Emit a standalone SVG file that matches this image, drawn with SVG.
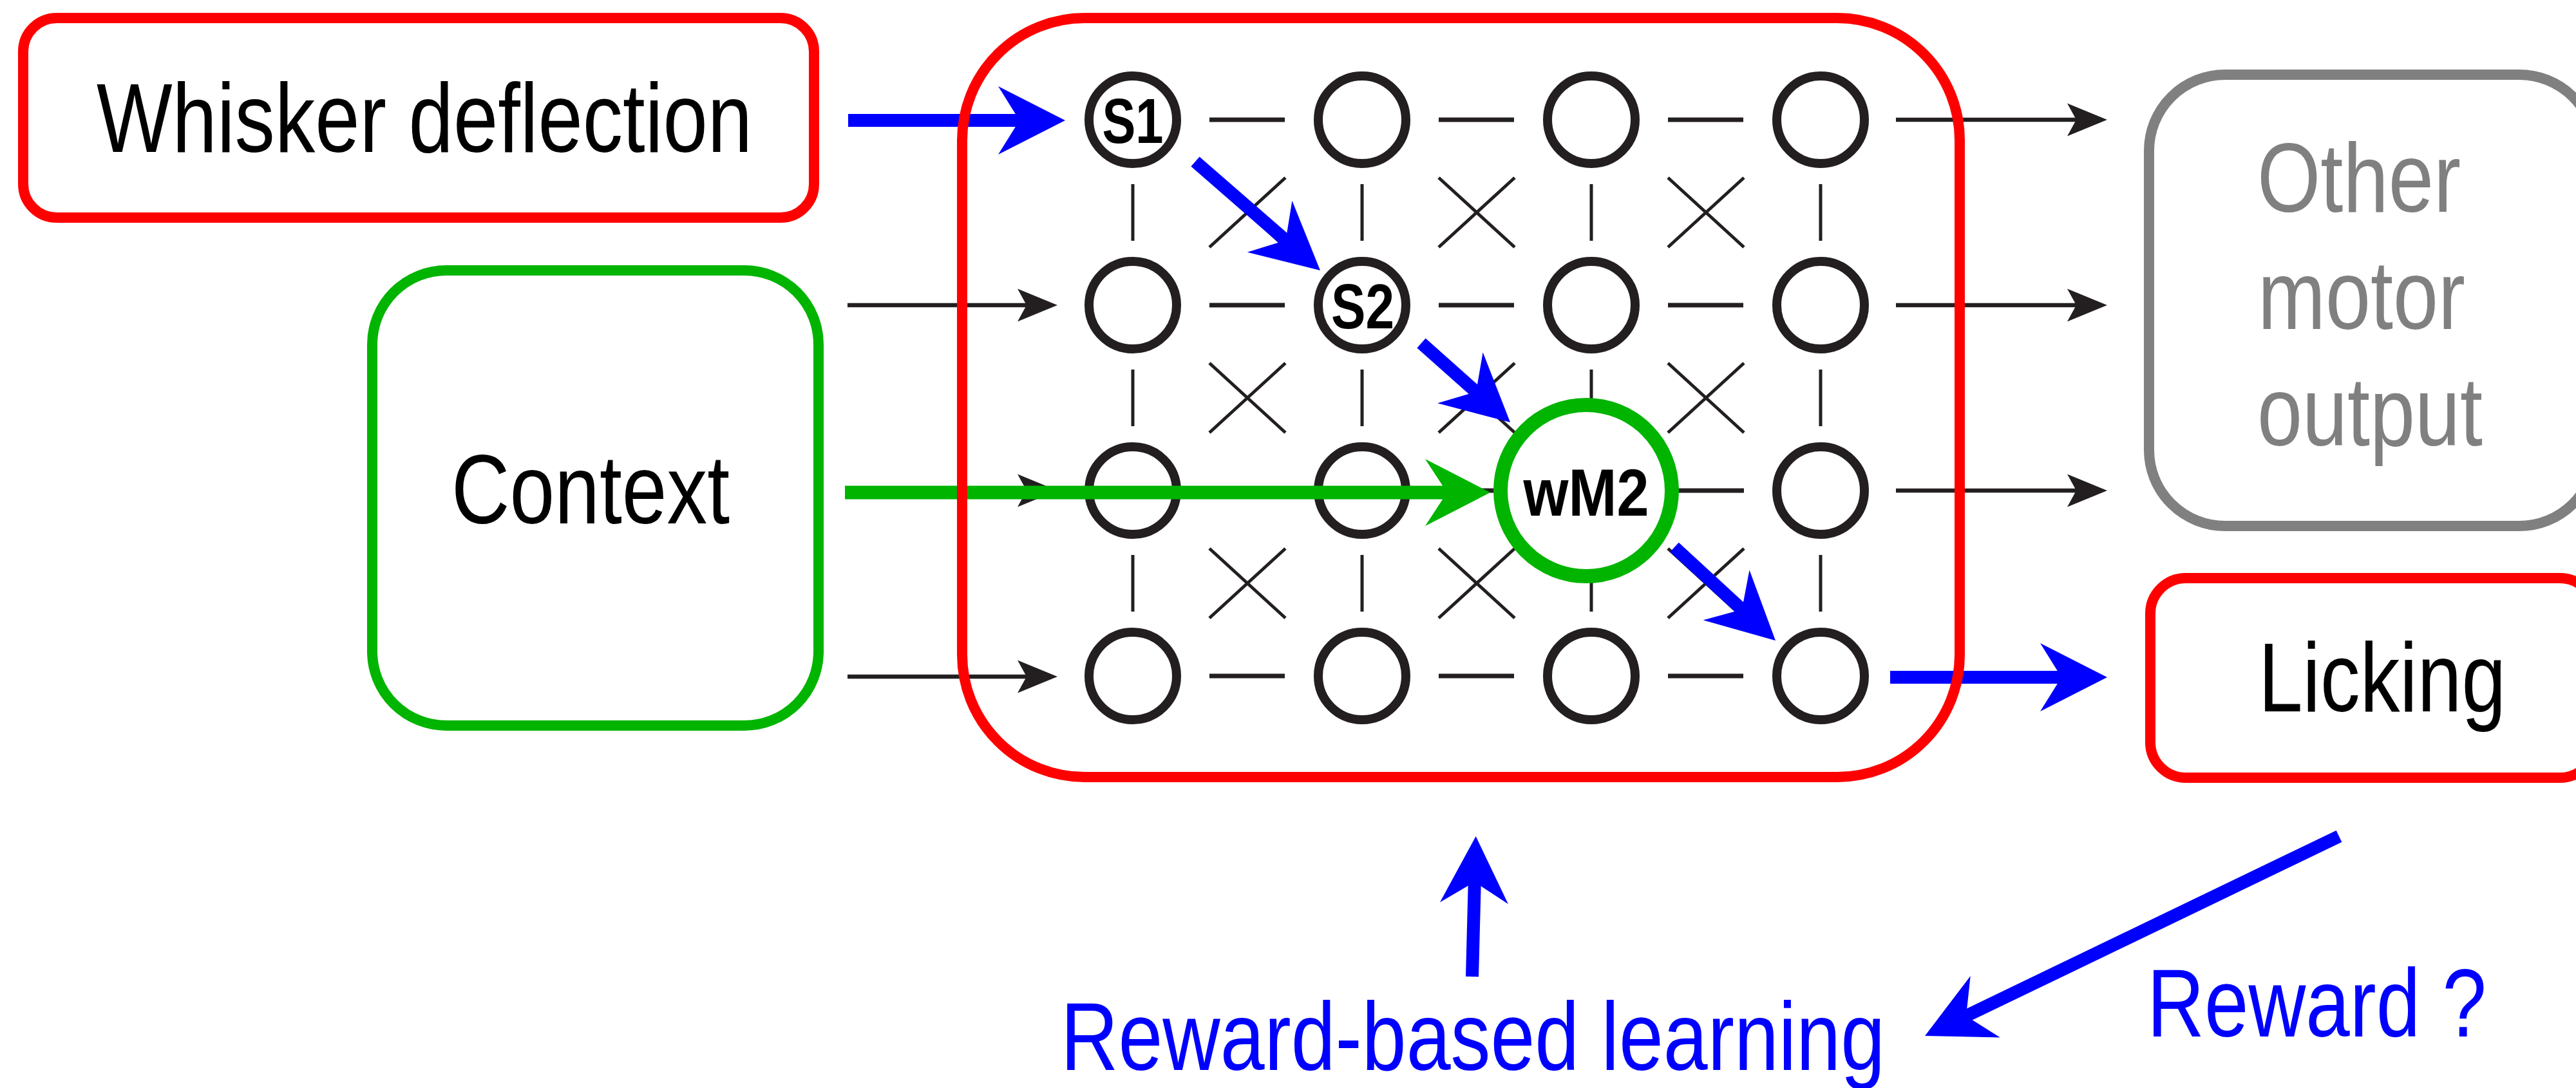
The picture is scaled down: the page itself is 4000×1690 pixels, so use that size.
<svg xmlns="http://www.w3.org/2000/svg" width="4000" height="1690" viewBox="0 0 4000 1690">
  <defs>
    <style>
      .box { fill: #ffffff; stroke-width: 16; }
      .red { stroke: #ff0000; }
      .grn { stroke: #00b400; }
      .gry { stroke: #808080; }
      .label { font-family: "Liberation Sans", Arial, sans-serif; font-size: 153px; fill: #000000; }
      .tag { font-family: "Liberation Sans", Arial, sans-serif; font-weight: bold; fill: #000000; text-anchor: middle; }
      .blue-text { font-family: "Liberation Sans", Arial, sans-serif; font-size: 151px; fill: #0000ff; }
      .cell { fill: #ffffff; stroke: #231f20; stroke-width: 14; }
      .link { stroke: #231f20; stroke-width: 5; fill: none; }
      .dash { stroke: #231f20; stroke-width: 7; fill: none; }
      .thin { stroke: #231f20; stroke-width: 6.5; fill: none; marker-end: url(#head-black); }
      .thick-blue { stroke: #0000ff; stroke-width: 20; fill: none; marker-end: url(#head-blue); }
      .thick-green { stroke: #00b400; stroke-width: 21; fill: none; marker-end: url(#head-green); }
    </style>
    <marker id="head-black" viewBox="-20 -30 75 60" markerWidth="75" markerHeight="60" markerUnits="userSpaceOnUse" refX="5" refY="0" orient="auto">
      <path d="M48,0 L-14,-25.5 L0,0 L-14,25.5 Z" fill="#231f20"/>
    </marker>
    <marker id="head-blue" viewBox="-40 -60 120 120" markerWidth="120" markerHeight="120" markerUnits="userSpaceOnUse" refX="8" refY="0" orient="auto">
      <path d="M71,0 L-33,-53 L0,0 L-33,53 Z" fill="#0000ff"/>
    </marker>
    <marker id="head-green" viewBox="-40 -60 120 120" markerWidth="120" markerHeight="120" markerUnits="userSpaceOnUse" refX="8" refY="0" orient="auto">
      <path d="M67,0 L-34,-52 L0,0 L-34,52 Z" fill="#00b400"/>
    </marker>
  </defs>

  <rect width="4000" height="1690" fill="#ffffff"/>

  <!-- lattice links between the 4x4 cells -->
  <g id="grid-links">
    <!-- horizontal links -->
    <g class="dash">
      <path d="M1878,186H1995M2234,186H2351M2590,186H2707"/>
      <path d="M1878,474H1995M2234,474H2351M2590,474H2707"/>
      <path d="M1878,762H1995M2234,762H2351M2590,762H2708"/>
      <path d="M1878,1050H1995M2234,1050H2351M2590,1050H2707"/>
    </g>
    <!-- vertical links -->
    <g class="link">
      <path d="M1759,286V374M2115,286V374M2471,286V374M2827,286V374"/>
      <path d="M1759,574V662M2115,574V662M2471,574V662M2827,574V662"/>
      <path d="M1759,862V950M2115,862V950M2471,862V950M2827,862V950"/>
    </g>
    <!-- diagonal cross links -->
    <g class="link">
      <path d="M1878,276L1996,384M1878,384L1996,276M2234,276L2352,384M2234,384L2352,276M2590,276L2708,384M2590,384L2708,276"/>
      <path d="M1878,564L1996,672M1878,672L1996,564M2234,564L2352,672M2234,672L2352,564M2590,564L2708,672M2590,672L2708,564"/>
      <path d="M1878,852L1996,960M1878,960L1996,852M2234,852L2352,960M2234,960L2352,852M2590,852L2708,960M2590,960L2708,852"/>
    </g>
  </g>

  <!-- network cells -->
  <g id="cells">
    <g id="cell-s1"><circle class="cell" cx="1759" cy="186" r="68"/><text class="tag" x="1759" y="222" font-size="98" textLength="95" lengthAdjust="spacingAndGlyphs">S1</text></g>
    <circle class="cell" id="cell-1-2" cx="2115" cy="186" r="68"/>
    <circle class="cell" id="cell-1-3" cx="2471" cy="186" r="68"/>
    <circle class="cell" id="cell-1-4" cx="2827" cy="186" r="68"/>
    <circle class="cell" id="cell-2-1" cx="1759" cy="474" r="68"/>
    <g id="cell-s2"><circle class="cell" cx="2115" cy="474" r="68"/><text class="tag" x="2116" y="510" font-size="98" textLength="98" lengthAdjust="spacingAndGlyphs">S2</text></g>
    <circle class="cell" id="cell-2-3" cx="2471" cy="474" r="68"/>
    <circle class="cell" id="cell-2-4" cx="2827" cy="474" r="68"/>
    <circle class="cell" id="cell-3-1" cx="1759" cy="762" r="68"/>
    <circle class="cell" id="cell-3-2" cx="2115" cy="762" r="68"/>
    <g id="cell-wm2"><circle cx="2463" cy="762" r="133" fill="#ffffff" stroke="#00b400" stroke-width="22"/><text class="tag" x="2463" y="801" font-size="104" textLength="195" lengthAdjust="spacingAndGlyphs">wM2</text></g>
    <circle class="cell" id="cell-3-4" cx="2827" cy="762" r="68"/>
    <circle class="cell" id="cell-4-1" cx="1759" cy="1050" r="68"/>
    <circle class="cell" id="cell-4-2" cx="2115" cy="1050" r="68"/>
    <circle class="cell" id="cell-4-3" cx="2471" cy="1050" r="68"/>
    <circle class="cell" id="cell-4-4" cx="2827" cy="1050" r="68"/>
  </g>

  <!-- arrows -->
  <g id="connectors">
    <!-- inputs to the first column -->
    <path class="thin" d="M1316,474H1599"/>
    <path class="thin" d="M1316,762H1599"/>
    <path class="thin" d="M1316,1051H1599"/>
    <!-- outputs from the last column -->
    <path class="thin" d="M2944,186H3229"/>
    <path class="thin" d="M2944,474H3229"/>
    <path class="thin" d="M2944,762H3229"/>
    <!-- sensory-to-motor pathway -->
    <path class="thick-blue" d="M1317,187H1591"/>
    <path class="thick-blue" d="M1856,251L2002.5,378.6"/>
    <path class="thick-blue" d="M2207,533L2298,614"/>
    <path class="thick-blue" d="M2600,850L2710.7,952.2"/>
    <path class="thick-blue" d="M2935,1052H3209"/>
    <!-- context input -->
    <path class="thick-green" d="M1312,765H2255"/>
    <!-- reward loop -->
    <path class="thick-blue" d="M3632,1299L3045.8,1581.6"/>
    <path class="thick-blue" d="M2286,1517L2290,1362"/>
  </g>

  <!-- cortex outline -->
  <g id="cortex">
    <rect x="1494" y="28" width="1549" height="1179" rx="190" ry="190" fill="none" stroke="#ff0000" stroke-width="16"/>
  </g>

  <g id="whisker-deflection">
    <rect class="box red" x="36" y="28" width="1228" height="310" rx="52" ry="52"/>
    <text class="label" x="150" y="236" textLength="1018" lengthAdjust="spacingAndGlyphs">Whisker deflection</text>
  </g>

  <g id="context">
    <rect class="box grn" x="578" y="420" width="693" height="707" rx="115" ry="115"/>
    <text class="label" x="701" y="813" font-size="154" textLength="432" lengthAdjust="spacingAndGlyphs">Context</text>
  </g>

  <g id="other-motor-output">
    <rect class="box gry" x="3337" y="116" width="693" height="701" rx="118" ry="118" stroke-width="15"/>
    <text class="label" style="fill:#808080" x="3505" y="329" textLength="316" lengthAdjust="spacingAndGlyphs">Other</text>
    <text class="label" style="fill:#808080" x="3506" y="511" textLength="322" lengthAdjust="spacingAndGlyphs">motor</text>
    <text class="label" style="fill:#808080" x="3505" y="692" textLength="350" lengthAdjust="spacingAndGlyphs">output</text>
  </g>

  <g id="licking">
    <rect class="box red" x="3339" y="898" width="691" height="310" rx="55" ry="55"/>
    <text class="label" x="3507" y="1105" font-size="154" textLength="384" lengthAdjust="spacingAndGlyphs">Licking</text>
  </g>

  <g id="reward-labels">
    <text class="blue-text" x="1647" y="1662" textLength="1280" lengthAdjust="spacingAndGlyphs">Reward-based learning</text>
    <text class="blue-text" x="3334" y="1610" textLength="527" lengthAdjust="spacingAndGlyphs">Reward ?</text>
  </g>
</svg>
